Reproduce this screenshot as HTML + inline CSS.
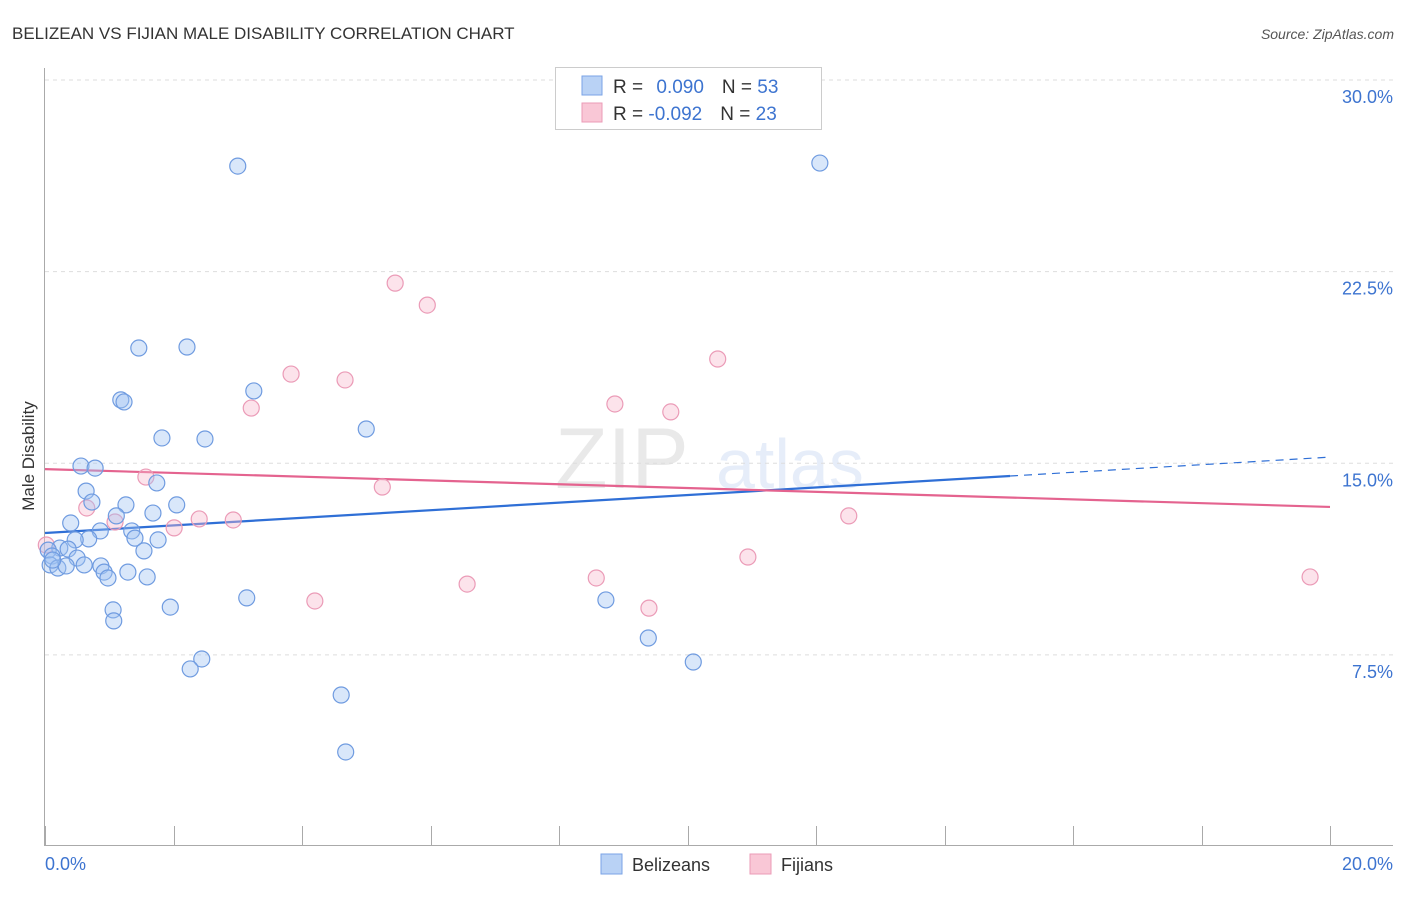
<!DOCTYPE html>
<html><head><meta charset="utf-8"><style>
body{margin:0;background:#fff;font-family:"Liberation Sans",sans-serif;}
svg text{font-family:"Liberation Sans",sans-serif;}
</style></head><body>
<svg id="chart" width="1406" height="892" viewBox="0 0 1406 892">
<text x="12" y="39" font-size="17" fill="#333">BELIZEAN VS FIJIAN MALE DISABILITY CORRELATION CHART</text>
<text x="1394" y="39" font-size="14" fill="#555" font-style="italic" text-anchor="end">Source: ZipAtlas.com</text>
<g opacity="0.12">
<text x="555" y="488" font-size="86" font-family="Liberation Serif,serif" fill="#555">ZIP</text>
<text x="716" y="488" font-size="70" fill="#3d74d0">atlas</text>
</g>
<g id="grid"></g>
<g id="axes"></g>
<text x="34" y="456" font-size="17" fill="#333" text-anchor="middle" transform="rotate(-90 34 456)">Male Disability</text>
<g id="trend"></g>
<g id="points"></g>
<g>
<rect x="555.5" y="67.5" width="266" height="62" fill="#fff" stroke="#ccc"/>
<rect x="582" y="76" width="20" height="19" fill="#b9d2f5" stroke="#7aa3e6"/>
<rect x="582" y="103" width="20" height="19" fill="#f9c7d6" stroke="#eb9bb7"/>
<text x="613" y="93" font-size="19" fill="#333">R = <tspan fill="#3d74d0" dx="8">0.090</tspan><tspan dx="18">N = </tspan><tspan fill="#3d74d0">53</tspan></text>
<text x="613" y="120" font-size="19" fill="#333">R = <tspan fill="#3d74d0">-0.092</tspan><tspan dx="18">N = </tspan><tspan fill="#3d74d0">23</tspan></text>
</g>
<g>
<rect x="601" y="854" width="21" height="20" fill="#b9d2f5" stroke="#7aa3e6"/>
<text x="632" y="871" font-size="18" fill="#333">Belizeans</text>
<rect x="750" y="854" width="21" height="20" fill="#f9c7d6" stroke="#eb9bb7"/>
<text x="781" y="871" font-size="18" fill="#333">Fijians</text>
</g>
</svg>
<script>
const yTicks=[30,22.5,15,7.5];
const yTickLabels=["30.0%","22.5%","15.0%","7.5%"];
const xTickLabels=["0.0%","20.0%"];
const belizeX=[3.00,12.06,1.46,2.21,1.18,1.23,3.25,1.82,2.49,5.00,0.56,0.78,0.64,0.73,1.74,1.26,2.05,0.40,1.11,1.68,0.86,1.35,1.40,1.76,0.68,0.47,0.23,0.36,0.05,0.11,1.54,0.50,0.08,0.20,0.33,0.61,0.87,0.92,1.29,0.98,1.59,1.06,1.07,1.95,3.14,8.73,9.39,2.44,2.26,10.09,4.61,4.68,0.12];
const belizeY=[26.63,26.75,19.51,19.55,17.48,17.40,17.83,15.99,15.95,16.34,14.89,14.81,13.91,13.48,14.23,13.37,13.37,12.66,12.94,13.05,12.35,12.35,12.07,12.00,12.04,12.00,11.68,11.64,11.60,11.37,11.57,11.29,11.02,10.90,10.98,11.02,10.98,10.74,10.74,10.51,10.55,9.26,8.83,9.37,9.73,9.65,8.16,7.34,6.95,7.22,5.93,3.70,11.21];
const fijiX=[5.45,5.95,10.47,3.83,4.67,3.21,8.87,9.74,1.57,5.25,0.65,1.09,2.01,2.40,2.93,12.51,10.94,0.02,8.58,6.57,4.20,9.40,19.69];
const fijiY=[22.05,21.19,19.08,18.49,18.26,17.16,17.32,17.01,14.46,14.07,13.25,12.70,12.47,12.82,12.78,12.94,11.33,11.80,10.51,10.27,9.61,9.33,10.55];
const belizeTrend=[12.27,15.24];
const belizeSolidEnd=15.02;
const fijiTrend=[14.77,13.29];
const X0=45,X1=1330,Y30=80,PXY=25.55;
const xs=v=>X0+v*(X1-X0)/20;
const ys=v=>Y30+(30-v)*PXY;
const NS="http://www.w3.org/2000/svg";
function mk(tag,parent,attrs){const e=document.createElementNS(NS,tag);for(const k in attrs)e.setAttribute(k,attrs[k]);parent.appendChild(e);return e;}
const grid=document.getElementById('grid');
yTicks.forEach((t,i)=>{
 const l=mk('line',grid,{x1:45,x2:1393,y1:ys(t),y2:ys(t),stroke:'#ddd','stroke-dasharray':'4,4'});
 
 
 const tx=mk('text',grid,{x:1393,y:ys(t)+23,'font-size':18,fill:'#3d74d0','text-anchor':'end'});
 tx.textContent=yTickLabels[i];
 
 
});
const ax=document.getElementById('axes');
mk('line',ax,{x1:44.5,x2:44.5,y1:68,y2:846,stroke:'#aaa'});
mk('line',ax,{x1:44,x2:1393,y1:845.5,y2:845.5,stroke:'#aaa'});
for(let i=0;i<=10;i++){const x=Math.round(xs(i*2))+0.5;const t=mk('line',ax,{x1:x,x2:x,y1:826,y2:846,stroke:'#aaa'});
 
 }
const xl0=mk('text',ax,{x:45,y:870,'font-size':18,fill:'#3d74d0'});xl0.textContent=xTickLabels[0];


const xl1=mk('text',ax,{x:1393,y:870,'font-size':18,fill:'#3d74d0','text-anchor':'end'});xl1.textContent=xTickLabels[1];


const pts=document.getElementById('points');
fijiX.forEach((x,i)=>{const c=mk('circle',pts,{cx:xs(x),cy:ys(fijiY[i]),r:8,fill:'rgba(248,185,205,0.4)',stroke:'#eb9bb7','stroke-width':1.2});
 
 });
belizeX.forEach((x,i)=>{const c=mk('circle',pts,{cx:xs(x),cy:ys(belizeY[i]),r:8,fill:'rgba(160,195,242,0.4)',stroke:'#6f9be0','stroke-width':1.2});
 
 });
const tr=document.getElementById('trend');
const bAt=x=>belizeTrend[0]+(belizeTrend[1]-belizeTrend[0])*x/20;
const b1=mk('line',tr,{x1:xs(0),y1:ys(bAt(0)),x2:xs(belizeSolidEnd),y2:ys(bAt(belizeSolidEnd)),stroke:'#2f6fd6','stroke-width':2.2});


const b2=mk('line',tr,{x1:xs(belizeSolidEnd),y1:ys(bAt(belizeSolidEnd)),x2:xs(20),y2:ys(bAt(20)),stroke:'#2f6fd6','stroke-width':1.2,'stroke-dasharray':'8,6'});


const f1=mk('line',tr,{x1:xs(0),y1:ys(fijiTrend[0]),x2:xs(20),y2:ys(fijiTrend[1]),stroke:'#e4638f','stroke-width':2.2});


</script>
</body></html>
